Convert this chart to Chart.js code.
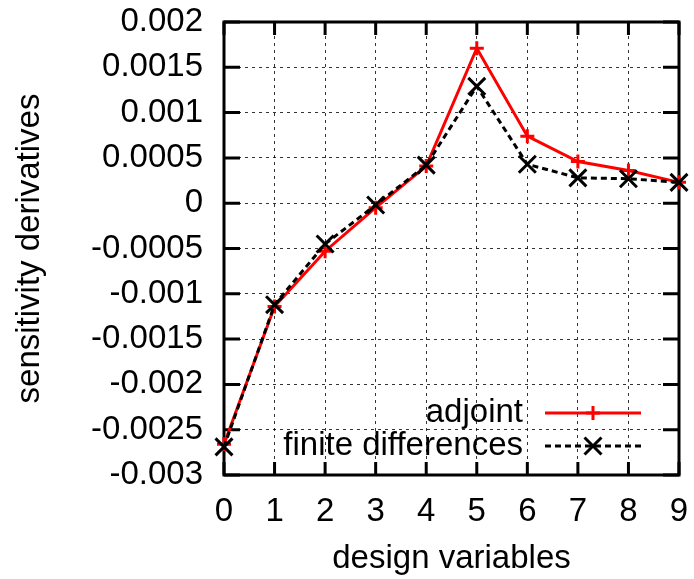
<!DOCTYPE html>
<html>
<head>
<meta charset="utf-8">
<title>sensitivity derivatives</title>
<script src="https://cdn.jsdelivr.net/npm/chart.js@4.4.1/dist/chart.umd.min.js"></script>
<style>
  html, body { margin: 0; padding: 0; background: #fff; }
  #wrap { width: 694px; height: 579px; }
</style>
</head>
<body>
<div id="wrap"><canvas id="chart" width="694" height="579"></canvas></div>
<script>
// ── Data ──────────────────────────────────────────────────────────────────────

const designVars = [0, 1, 2, 3, 4, 5, 6, 7, 8, 9];
const adjoint = [-0.00266, -0.00114, -0.00053, -0.00005, 0.00041, 0.00171, 0.00074, 0.00046, 0.00036, 0.00023];
const finiteDiff = [-0.00269, -0.00112, -0.00045, -0.00002, 0.00042, 0.00129, 0.00043, 0.00028, 0.00027, 0.00023];
const seriesLabels = ['adjoint', 'finite differences'];

const FONT = '"Liberation Sans", Arial, sans-serif';
const FONT_SIZE = 33;

// ── Plugins ──────────────────────────────────────────────────────────────────

// gnuplot style frame with inward tick marks on all four sides
const framePlugin = {
  id: 'frame',
  beforeDatasetsDraw(chart) {
    const { ctx, chartArea: a, scales: { x, y } } = chart;
    ctx.save();
    ctx.strokeStyle = '#000';
    ctx.lineWidth = 3;
    ctx.beginPath();
    x.ticks.forEach(t => {
      const px = x.getPixelForValue(t.value);
      ctx.moveTo(px, a.bottom); ctx.lineTo(px, a.bottom - 13);
      ctx.moveTo(px, a.top); ctx.lineTo(px, a.top + 13);
    });
    y.ticks.forEach(t => {
      const py = y.getPixelForValue(t.value);
      ctx.moveTo(a.left, py); ctx.lineTo(a.left + 16, py);
      ctx.moveTo(a.right, py); ctx.lineTo(a.right - 16, py);
    });
    ctx.stroke();
    ctx.strokeRect(a.left, a.top, a.right - a.left, a.bottom - a.top);
    ctx.restore();
  }
};

// key in the lower right corner, text right-aligned before the line sample
const keyPlugin = {
  id: 'key',
  afterDraw(chart) {
    const { ctx } = chart;
    const textRight = 523, lineL = 545, lineR = 641;
    const rows = [413, 446];
    ctx.save();
    ctx.font = `${FONT_SIZE}px ${FONT}`;
    ctx.textAlign = 'right';
    ctx.textBaseline = 'middle';
    chart.data.datasets.forEach((ds, i) => {
      const yy = rows[i];
      ctx.fillStyle = '#000';
      ctx.fillText(ds.label, textRight, yy);
      ctx.strokeStyle = ds.borderColor;
      ctx.lineWidth = ds.borderWidth;
      ctx.setLineDash(ds.borderDash || []);
      ctx.beginPath();
      ctx.moveTo(lineL, yy); ctx.lineTo(lineR, yy);
      ctx.stroke();
      ctx.setLineDash([]);
      ctx.lineWidth = ds.pointBorderWidth;
      Chart.helpers.drawPoint(ctx, {
        pointStyle: ds.pointStyle, radius: ds.pointRadius, rotation: 0, borderWidth: ds.pointBorderWidth
      }, (lineL + lineR) / 2, yy);
    });
    ctx.restore();
  }
};

// ── Chart ────────────────────────────────────────────────────────────────────

const toPoints = ys => designVars.map((v, i) => ({ x: v, y: ys[i] }));

new Chart(document.getElementById('chart'), {
  type: 'line',
  data: {
    datasets: [
      {
        label: seriesLabels[0],
        data: toPoints(adjoint),
        borderColor: '#ff0000',
        backgroundColor: '#ff0000',
        borderWidth: 3,
        pointStyle: 'cross',
        pointRadius: 7,
        pointBorderWidth: 3,
        pointBorderColor: '#ff0000',
        clip: false,
        order: 1,
      },
      {
        label: seriesLabels[1],
        data: toPoints(finiteDiff),
        borderColor: '#000',
        backgroundColor: '#000',
        borderWidth: 3,
        borderDash: [6, 4],
        pointStyle: 'crossRot',
        pointRadius: 12,
        pointBorderWidth: 3,
        pointBorderColor: '#000',
        clip: false,
        order: 0,
      },
    ],
  },
  options: {
    responsive: false,
    animation: false,
    layout: { padding: { left: 0, right: 14, top: 22, bottom: 0 } },
    plugins: { legend: { display: false }, tooltip: { enabled: false } },
    scales: {
      x: {
        type: 'linear',
        min: 0, max: 9,
        afterFit: s => { s.height = 104; s.paddingLeft = 0; s.paddingRight = 0; },
        ticks: { stepSize: 1, padding: 17, color: '#000', font: { family: FONT, size: FONT_SIZE } },
        grid: { color: 'rgba(0,0,0,0.8)', lineWidth: 1, drawTicks: false },
        border: { display: false, dash: [3, 4] },
        title: { display: true, text: 'design variables', color: '#000', padding: { top: 0, bottom: 0 },
                 font: { family: FONT, size: FONT_SIZE } },
      },
      y: {
        min: -0.003, max: 0.002,
        afterFit: s => { s.width = 224; s.paddingTop = 0; s.paddingBottom = 0; },
        ticks: { stepSize: 0.0005, padding: 21, color: '#000', font: { family: FONT, size: FONT_SIZE },
                 callback: v => String(+v.toFixed(4)) },
        grid: { color: 'rgba(0,0,0,0.8)', lineWidth: 1, drawTicks: false },
        border: { display: false, dash: [3, 4] },
        title: { display: true, text: 'sensitivity derivatives', color: '#000', padding: { top: 10, bottom: 0 },
                 font: { family: FONT, size: FONT_SIZE } },
      },
    },
  },
  plugins: [framePlugin, keyPlugin],
});
</script>
</body>
</html>
